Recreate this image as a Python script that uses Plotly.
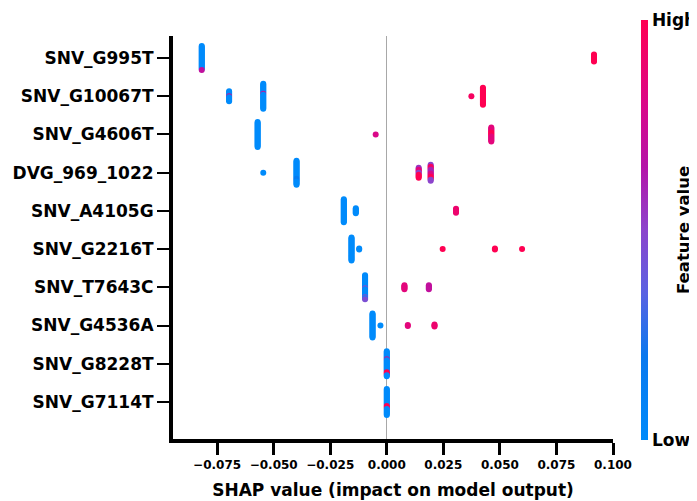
import plotly.graph_objects as go

# Feature names (top to bottom as displayed)
features = ["SNV_G995T", "SNV_G10067T", "SNV_G4606T", "DVG_969_1022", "SNV_A4105G",
            "SNV_G2216T", "SNV_T7643C", "SNV_G4536A", "SNV_G8228T", "SNV_G7114T"]

# Clusters of samples: feature, SHAP value, runs of (feature value 0..1, number of samples), top to bottom
cluster_feature = [
    "SNV_G995T", "SNV_G995T",
    "SNV_G10067T", "SNV_G10067T", "SNV_G10067T", "SNV_G10067T",
    "SNV_G4606T", "SNV_G4606T", "SNV_G4606T",
    "DVG_969_1022", "DVG_969_1022", "DVG_969_1022", "DVG_969_1022",
    "SNV_A4105G", "SNV_A4105G", "SNV_A4105G",
    "SNV_G2216T", "SNV_G2216T", "SNV_G2216T", "SNV_G2216T", "SNV_G2216T",
    "SNV_T7643C", "SNV_T7643C", "SNV_T7643C",
    "SNV_G4536A", "SNV_G4536A", "SNV_G4536A", "SNV_G4536A",
    "SNV_G8228T",
    "SNV_G7114T",
]
cluster_shap = [
    -0.0818, 0.0916,
    -0.0697, -0.0546, 0.0374, 0.0425,
    -0.0571, -0.0049, 0.0462,
    -0.0546, -0.0399, 0.0141, 0.0194,
    -0.0190, -0.0137, 0.0306,
    -0.0156, -0.0122, 0.0247, 0.0478, 0.0598,
    -0.0096, 0.0078, 0.0186,
    -0.0063, -0.0028, 0.0093, 0.0211,
    0.0000,
    0.0000,
]
cluster_runs = [
    [(0.0, 24), (0.7, 1)], [(1.0, 8)],
    [(0.0, 5), (0.75, 1), (0.0, 5)], [(0.0, 10), (0.7, 1), (0.0, 15)], [(0.95, 1)], [(1.0, 18)],
    [(0.0, 26)], [(0.8, 1)], [(0.85, 5), (1.0, 4), (0.85, 6)],
    [(0.0, 1)], [(0.0, 18), (0.15, 3), (0.0, 4)], [(0.55, 2), (0.85, 3), (0.5, 2), (1.0, 4)],
    [(0.5, 2), (0.95, 3), (0.6, 4), (0.8, 3), (1.0, 3), (0.5, 2)],
    [(0.0, 24)], [(0.0, 6)], [(0.9, 5)],
    [(0.0, 24)], [(0.0, 2)], [(1.0, 1)], [(1.0, 2)], [(1.0, 1)],
    [(0.0, 13), (0.5, 1), (0.0, 8), (0.5, 1), (0.0, 1), (0.45, 1)], [(0.85, 5)], [(0.7, 5)],
    [(0.0, 25)], [(0.0, 1)], [(0.85, 2)], [(0.9, 3)],
    [(0.0, 8), (0.75, 1), (0.0, 12), (1.0, 3), (0.0, 2)],
    [(0.0, 17), (1.0, 3), (0.0, 7)],
]

# ---- build the beeswarm (vertical stacking of samples sharing a SHAP value) ----
n_feat = len(features)
row_of = {f: n_feat - 1 - i for i, f in enumerate(features)}
ROW_PX = 38.22
STEP = 1.0 / ROW_PX  # one pixel per stacked sample

xs, ys, cs = [], [], []
for feat, sv, runs in zip(cluster_feature, cluster_shap, cluster_runs):
    vals = [v for v, n in runs for _ in range(n)]
    n = len(vals)
    base = row_of[feat]
    for i, v in enumerate(vals):
        xs.append(sv)
        ys.append(base + ((n - 1) / 2 - i) * STEP)
        cs.append(v)

colorscale = [
    [0.0, "#008bfb"],
    [0.2, "#0a78ee"],
    [0.35, "#5a62e2"],
    [0.5, "#8c44cc"],
    [0.65, "#b414a8"],
    [0.8, "#da0888"],
    [1.0, "#ff0052"],
]

FONT = "DejaVu Sans"
OFF = 8  # page body margin
W, H = 697 - OFF, 501 - OFF
L, T = 173 - OFF, 36 - OFF
PW, PH = 440, 403
R, B = W - L - PW, H - T - PH


def px_x(xp):  # page pixel -> paper x
    return (xp - OFF - L) / PW


def px_y(yp):  # page pixel -> paper y
    return (T + PH - (yp - OFF)) / PH


fig = go.Figure()
fig.add_trace(go.Scatter(
    x=xs, y=ys, mode="markers",
    marker=dict(
        size=6, color=cs, cmin=0, cmax=1, colorscale=colorscale,
        line=dict(width=0), opacity=1,
        showscale=True,
        colorbar=dict(
            thickness=7, len=420, lenmode="pixels",
            y=px_y(230), yanchor="middle",
            x=px_x(641), xanchor="left",
            outlinewidth=0, xpad=0, ypad=0,
            tickvals=[0, 1], ticktext=["Low", "High"], ticks="",
            tickfont=dict(family=FONT, size=17, color="black", weight="bold"),
        ),
    ),
    hoverinfo="skip", showlegend=False,
))

fig.add_annotation(
    text="Feature value", textangle=-90,
    xref="paper", yref="paper",
    x=px_x(683), y=px_y(230),
    xanchor="center", yanchor="middle", showarrow=False,
    font=dict(family=FONT, size=16.5, color="black", weight="bold"),
)

fig.update_layout(
    width=W, height=H,
    margin=dict(l=L, r=R, t=T, b=B, autoexpand=False),
    paper_bgcolor="white", plot_bgcolor="white",
    xaxis=dict(
        range=[-0.0945, 0.100],
        tickvals=[-0.075, -0.05, -0.025, 0, 0.025, 0.05, 0.075, 0.1],
        tickformat=".3f",
        showgrid=False,
        zeroline=True, zerolinecolor="#a8a8a8", zerolinewidth=1,
        showline=True, linecolor="black", linewidth=4,
        ticks="outside", ticklen=12, tickwidth=2.5, tickcolor="black",
        tickfont=dict(family=FONT, size=12, color="black", weight="bold"),
        automargin=False,
        title=dict(text="SHAP value (impact on model output)", standoff=14,
                   font=dict(family=FONT, size=17, color="black", weight="bold")),
    ),
    yaxis=dict(
        range=[-0.97, n_feat - 1 + 0.576],
        tickvals=[row_of[f] for f in features], ticktext=features,
        showgrid=False, zeroline=False,
        showline=True, linecolor="black", linewidth=4,
        ticks="outside", ticklen=12, tickwidth=1.5, tickcolor="black",
        automargin=False,
        tickfont=dict(family=FONT, size=17, color="black", weight="bold"),
    ),
)

fig.write_html("out.html")
